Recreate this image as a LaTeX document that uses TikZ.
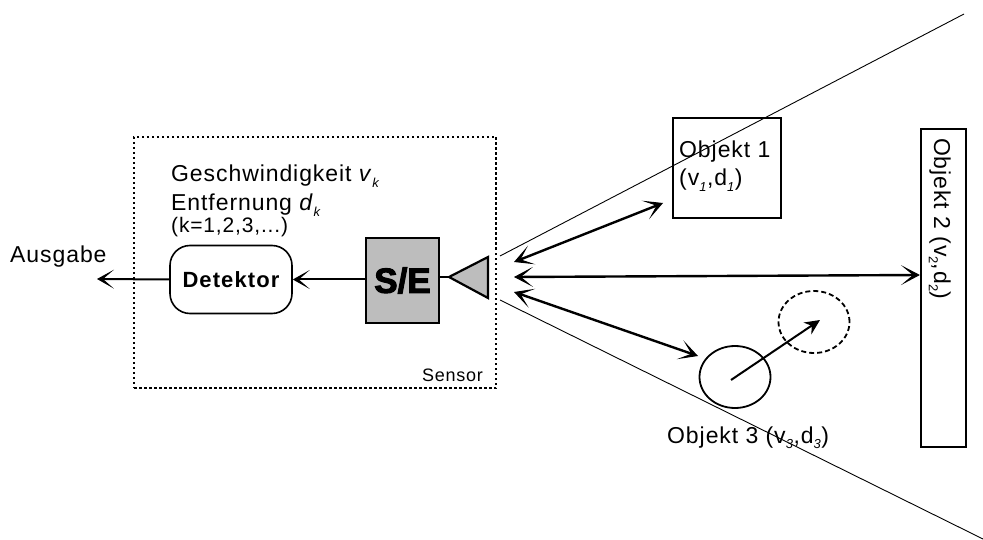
\documentclass[tikz,border=0pt]{standalone}
\usepackage{fontspec}
\setmainfont{Liberation Sans}
\newfontfamily\spc[LetterSpace=4]{Liberation Sans}
\newfontfamily\spcb[LetterSpace=5]{Liberation Sans Bold}
\newfontfamily\heavy[FakeBold=3]{Liberation Sans Bold}
\usetikzlibrary{arrows.meta,shapes.geometric}
\tikzset{
  txt/.style={inner sep=0pt,anchor=base west,font=\spc\fontsize{23}{26}\selectfont},
  small/.style={inner sep=0pt,anchor=base west,font=\spc\fontsize{21}{24}\selectfont},
  conn/.style={line width=2pt,-{Stealth[length=17pt,width=19pt,inset=11pt,line width=1pt]}},
  dbl/.style={line width=2.4pt,{Stealth[length=19pt,width=20pt,inset=12pt,line width=1pt]}-{Stealth[length=19pt,width=20pt,inset=12pt,line width=1pt]}},
  beam/.style={line width=0.9pt},
  block/.style={draw,line width=2.2pt,inner sep=0pt},
  obj/.style={draw,ellipse,inner sep=0pt,minimum width=71pt,minimum height=62pt},
}
\newcommand{\lowtxt}[1]{\raisebox{-0.22em}{\fontsize{13}{14}\selectfont #1}}
\begin{document}
\begin{tikzpicture}[x=1pt,y=-1pt]
\useasboundingbox (0,0) rectangle (983,540);
% sensor frame
\node[draw,line width=2.2pt,dash pattern=on 2.5pt off 2.5pt,minimum width=362pt,minimum height=251pt,inner sep=0pt] (sensor) at (315,262.5) {};
\node[inner sep=0pt,anchor=base west,font=\spc\fontsize{18}{20}\selectfont] (sensorlabel) at (422,381) {Sensor};
% texts
\node[txt] (g) at (171,182) {Geschwindigkeit \textit{v}\lowtxt{\textit{k}}};
\node[txt] (e) at (171,211) {Entfernung \textit{d}\lowtxt{\textit{k}}};
\node[small] (k) at (171,233) {(k=1,2,3,...)};
\node[txt] (ausgabe) at (10,262) {Ausgabe};
\coordinate (out) at (97,279);
% blocks
\node[draw,line width=1.6pt,rounded corners=20pt,minimum width=122pt,minimum height=68pt,inner sep=0pt,
  font=\spcb\fontsize{22}{24}\selectfont] (det) at (231,279.5) {Detektor};
\node[block,fill=black!26,minimum width=73pt,minimum height=85pt,
  font=\heavy\fontsize{35}{38}\selectfont] (se) at (402.5,280.5) {S/E};
\coordinate (t1) at (449,277);
\coordinate (t2) at (488,257);
\coordinate (t3) at (488,298);
\draw[line width=2.2pt,fill=black!26,line join=miter] (t1) -- (t2) -- (t3) -- cycle;
\draw[line width=2.2pt] (se.east |- t1) -- (t1);
\draw[conn] (se.west |- det.east) -- (det.east);
\draw[conn] (det.west) -- (out);
% beam
\coordinate (b0) at (500,256);
\coordinate (b1) at (964,14);
\coordinate (b2) at (500,300);
\coordinate (b3) at (983,539);
\draw[beam] (b0) -- (b1);
\draw[beam] (b2) -- (b3);
% objects
\node[block,minimum width=108pt,minimum height=100pt] (o1) at (727,168) {};
\node[block,minimum width=45pt,minimum height=318pt] (o2) at (943.5,288) {};
\node[obj,line width=1.8pt] (o3) at (735,377) {};
\node[obj,line width=1.8pt,dash pattern=on 5pt off 3pt] (o3m) at (814,322) {};
\coordinate (o3c) at (731,380);
\coordinate (mv) at (820,320);
\draw[line width=2pt,-{Stealth[length=15pt,width=14pt]}] (o3c) -- (mv);
\node[txt] (l1a) at (679,158) {Objekt 1};
\node[txt] (l1b) at (679,186) {(v\lowtxt{\textit{1}},d\lowtxt{\textit{1}})};
\node[txt,rotate=-90] (l2) at (934,138) {Objekt 2 (v\lowtxt{2},d\lowtxt{2})};
\node[txt] (l3) at (667,443) {Objekt 3 (v\lowtxt{\textit{3}},d\lowtxt{\textit{3}})};
% rays
\coordinate (r1) at (514,262);
\coordinate (r1e) at (663,203);
\coordinate (r2) at (514,277);
\coordinate (r3) at (514,292);
\coordinate (r3e) at (698,356);
\draw[dbl] (r1) -- (r1e);
\draw[dbl] (r2) -- (o2.west |- 0,275);
\draw[dbl] (r3) -- (r3e);
\end{tikzpicture}
\end{document}
